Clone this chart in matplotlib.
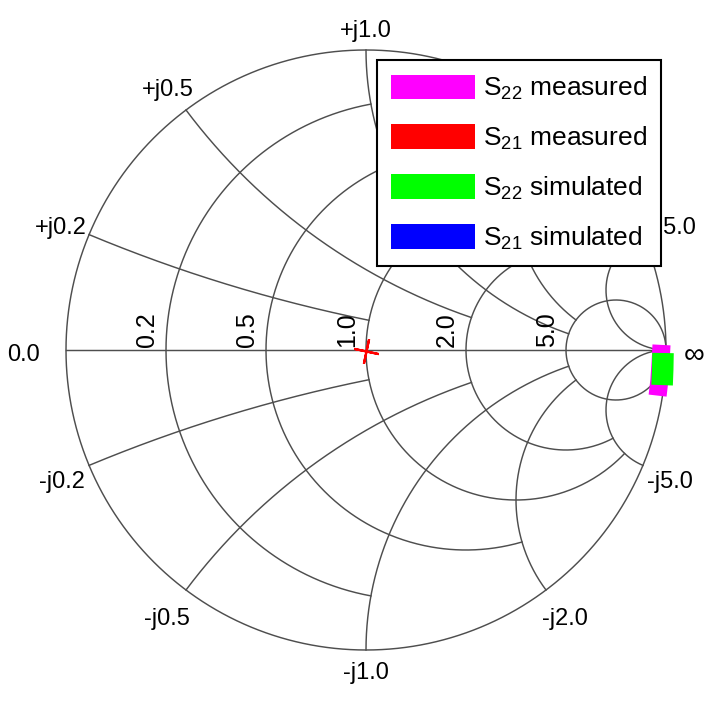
import numpy as np
import matplotlib
matplotlib.use('Agg')
import matplotlib.pyplot as plt
from matplotlib.patches import Patch

plt.rcParams['font.family'] = ['Liberation Sans', 'DejaVu Sans']
plt.rcParams['mathtext.fontset'] = 'custom'
plt.rcParams['mathtext.rm'] = 'Liberation Sans'
plt.rcParams['mathtext.default'] = 'regular'

# smith chart grid: constant-r circles and constant-x arcs, each clipped
r_circles = [0.2, 0.5, 1.0, 2.0, 5.0]
r_circle_xmax = [1.0, 2.0, 5.0, 5.0, np.inf]
r_labels = ['0.2', '0.5', '1.0', '2.0', '5.0']

x_arcs = [0.2, 0.5, 1.0, 2.0, 5.0]
x_arc_rmax = [1.0, 2.0, 5.0, 5.0, np.inf]
x_labels_pos = ['+j0.2', '+j0.5', '+j1.0', '+j2.0', '+j5.0']
x_labels_neg = ['-j0.2', '-j0.5', '-j1.0', '-j2.0', '-j5.0']

# traces as reflection coefficient (re, im)
s22_meas_re = [0.985, 0.982, 0.978, 0.972]
s22_meas_im = [0.017, -0.040, -0.100, -0.152]
s21_meas_re = [0.0]
s21_meas_im = [-0.004]
s22_sim_re = [0.990, 0.989, 0.987]
s22_sim_im = [-0.010, -0.065, -0.117]
s21_sim_re = [0.0]
s21_sim_im = [-0.004]

legend_labels = ['S$_{22}$ measured', 'S$_{21}$ measured',
                 'S$_{22}$ simulated', 'S$_{21}$ simulated']
legend_colors = ['#ff00ff', '#ff0000', '#00ff00', '#0000ff']

PX = 300.0  # pixels per unit of gamma


def gamma(z):
    return (z - 1) / (z + 1)


fig = plt.figure(figsize=(7.09, 7.02), dpi=100)
ax = fig.add_axes([0, 0, 1, 1])
ax.set_xlim(-366 / PX, 343 / PX)
ax.set_ylim(-352 / PX, 350 / PX)
ax.axis('off')

grid_kw = dict(color='#4e4e4e', lw=1.05, zorder=1)

t = np.linspace(0, 2 * np.pi, 721)
ax.plot(np.cos(t), np.sin(t), **grid_kw)
ax.plot([-1, 1], [0, 0], **grid_kw)

for r, xm in zip(r_circles, r_circle_xmax):
    xs = np.tan(np.linspace(-np.arctan(xm), np.arctan(xm), 600))
    g = gamma(r + 1j * xs)
    ax.plot(g.real, g.imag, **grid_kw)

for x, rm in zip(x_arcs, x_arc_rmax):
    rs = np.tan(np.linspace(0, np.arctan(rm), 600))
    for sgn in (1, -1):
        g = gamma(rs + 1j * sgn * x)
        ax.plot(g.real, g.imag, **grid_kw)

# resistance labels along the real axis
for r, lab in zip(r_circles, r_labels):
    g = gamma(r)
    ax.annotate(lab, (g, 0), xytext=(-7, 3), textcoords='offset pixels',
                rotation=90, ha='right', va='bottom', fontsize=18, zorder=2)

# labels around the rim, pushed outward until clear of the circle
renderer = fig.canvas.get_renderer()


def rim_label(gx, gy, s, gap=None, size=17):
    ang = np.arctan2(gy, gx)
    ux, uy = np.cos(ang), np.sin(ang)
    txt = ax.text(gx, gy, s, ha='center', va='center', fontsize=size,
                  zorder=2)
    bb = txt.get_window_extent(renderer)
    if gap is None:
        gap = 1 + 7 * uy ** 2 + 4 * max(0.0, -uy)
    d = gap + abs(ux) * bb.width / 2 + abs(uy) * bb.height / 2
    shift = 5 * (1 - uy ** 8)
    txt.set_position((gx + ux * d / PX, gy + (uy * d - shift) / PX))


for x, lp, ln in zip(x_arcs, x_labels_pos, x_labels_neg):
    g = gamma(1j * x)
    rim_label(g.real, g.imag, lp)
    rim_label(g.real, -g.imag, ln)
rim_label(-1.0, 0.0, '0.0', gap=26)
rim_label(1.0, 0.0, '\u221e', gap=18, size=21)

# traces
ax.plot(s21_sim_re, s21_sim_im, ls='none', marker=(4, 2, -12), ms=14,
        mew=1.2, color=legend_colors[3], zorder=3)
ax.plot(s21_meas_re, s21_meas_im, ls='none', marker=(4, 2, -12), ms=18,
        mew=1.6, color=legend_colors[1], zorder=4)
ax.plot(s22_meas_re, s22_meas_im, color=legend_colors[0], lw=13,
        solid_capstyle='butt', solid_joinstyle='round', zorder=3)
ax.plot(s22_sim_re, s22_sim_im, color=legend_colors[2], lw=15.5,
        solid_capstyle='butt', zorder=4)

handles = [Patch(facecolor=c, edgecolor='none') for c in legend_colors]
leg = ax.legend(handles, legend_labels, loc='upper right',
                bbox_to_anchor=(661 / 709, 1 - 60 / 702),
                bbox_transform=fig.transFigure, borderaxespad=0,
                fontsize=19, handlelength=3.15, handleheight=1.05,
                handletextpad=0.3, labelspacing=0.85, borderpad=0.55,
                frameon=True, fancybox=False, framealpha=1,
                edgecolor='black')
leg.get_frame().set_linewidth(1.5)
leg.set_zorder(5)

fig.savefig('out.png', dpi=100)
